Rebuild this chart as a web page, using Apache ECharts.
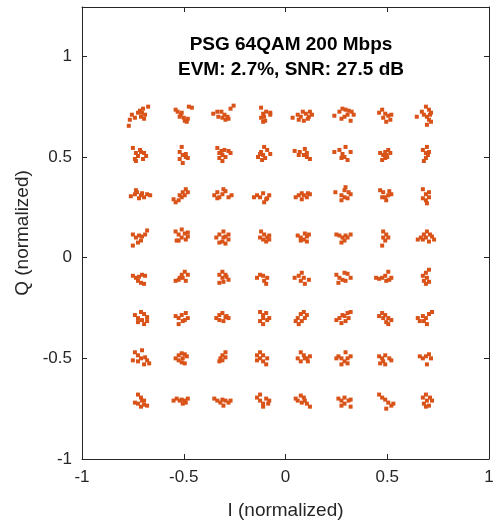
<!DOCTYPE html>
<html><head><meta charset="utf-8">
<script src="https://cdn.jsdelivr.net/npm/echarts@6/dist/echarts.min.js"></script>
<style>html,body{margin:0;padding:0;background:#fff}#c{width:497px;height:525px}</style>
</head><body><div id="c"></div>
<script>
// Cluster centres
const I_CENTERS = [-0.71, -0.51, -0.31, -0.11, 0.09, 0.29, 0.49, 0.69];
const Q_CENTERS = [0.70, 0.51, 0.31, 0.10, -0.10, -0.30, -0.50, -0.71];
const OFFSET_UNIT = 0.005;
// Per-cluster point offsets (in OFFSET_UNIT), rows top->bottom, columns left->right
const ROW0 = ["-9,2 -6,-1 -3,4 -1,6 2,8 0,0 4,2 -11,-3 7,10 -12,-9 3,-2 1,4","-6,7 -4,5 -1,2 2,-1 5,-5 7,10 10,9 -2,0 3,-4 6,-2 0,4","-9,3 -4,0 -1,5 2,2 5,0 8,8 -5,5 3,-3 6,-2 0,-1 11,11","-2,9 0,3 3,5 7,4 1,0 -2,-1 2,-4 0,-5 7,2","-11,-1 -6,2 -1,5 2,3 5,0 8,2 0,-4 -3,0 4,-2 6,5 -5,-3","-10,1 -5,5 -2,8 1,7 4,6 7,5 9,2 0,0 3,2 -3,-2 6,-4","-6,4 -3,7 0,3 3,1 5,-3 -2,-1 1,-5 6,2","-9,0 -4,5 0,10 3,7 5,4 1,0 3,-3 -2,2 5,-5 1,-8 4,2"];
const ROW1 = ["-8,7 -5,2 -3,-1 0,3 3,2 5,-1 -6,-4 2,-4 -1,5 -5,-6","0,8 -2,3 1,0 4,-2 6,-3 -2,-4 1,-8 4,1","-5,7 -3,2 0,0 2,5 6,4 -3,-3 0,-6 3,-2 8,2 -1,4","1,8 4,5 -2,3 0,0 -5,-2 2,-3 7,1 -1,-5 -3,1","-9,4 -4,3 0,0 3,-2 6,-4 1,6 -5,0 3,2","-10,3 -5,5 -2,1 0,-2 3,-5 1,8 6,3 -3,-3","-5,2 -2,0 0,-3 3,5 5,2 1,0 -3,-5 2,-2 0,3","-3,5 0,2 2,0 0,-3 -2,-6 3,3 1,8"];
const ROW2 = ["-10,-1 -6,1 -4,3 0,0 3,-2 6,1 -5,5 -2,-3 1,2 9,0","-8,-4 -6,-7 -2,0 1,3 4,6 6,3 0,-2 3,0 -3,-5","-8,0 -5,3 -3,-2 0,1 3,4 6,-2 1,6 -5,-3 9,0","-9,-2 -6,0 -3,-2 0,2 4,-3 6,0 1,-7 3,-4","-8,-2 -5,0 -2,2 0,0 3,-2 6,1 -2,-4 4,2","-9,3 -3,0 0,5 4,3 6,1 0,-2 -3,-5 3,-3 1,8","-5,5 -2,3 0,-2 3,0 6,1 -3,-2 1,-5 4,4","-3,6 0,1 3,-2 0,-5 -3,-3 3,3 1,-8"];
const ROW3 = ["-8,3 -5,0 -2,2 1,1 4,3 6,7 -3,-5 0,-3 -8,-8","-6,6 -3,3 0,0 3,4 6,1 -3,-3 0,8 4,-2 -5,-3 6,5","-6,0 -3,3 1,6 3,1 6,-2 0,-4 -3,-5 3,-6 1,0 6,3","-2,6 1,3 4,0 6,2 0,-2 -3,0 3,-4 6,-2","-6,2 -3,0 0,-2 3,1 5,3 1,4 -3,-3 3,-4","-8,3 -5,2 -2,0 0,-3 3,0 6,3 -3,-5 1,2","-2,6 1,3 3,0 -2,0 0,-3 -3,-8","-8,-2 -5,0 -2,3 1,6 4,3 6,1 8,-2 -3,-2 3,-4 0,0"];
const ROW4 = ["-8,2 -5,0 -2,1 1,3 4,2 -3,-3 0,-5 3,-6","-6,-3 -2,0 0,3 3,6 6,3 1,0 4,-3 -3,-2","-3,3 0,0 4,1 6,-2 1,-4 -3,-5 3,3 0,6","-6,0 -3,3 0,2 4,0 1,-3 3,-6","-9,0 -5,2 -2,5 0,0 -3,-3 1,-6 5,-2","-8,3 -5,0 -2,-2 0,5 3,4 6,0 1,-3 -6,-5","-9,0 -6,-1 -3,0 0,2 3,6 1,-3 4,-2 6,0","-3,2 0,5 3,8 1,0 -2,-3 3,-4 0,-6"];
const ROW5 = ["-6,3 -3,0 0,6 3,4 6,1 1,-2 -3,-4 3,-6 6,-3","-6,2 -3,0 0,3 4,5 6,0 1,-3 -3,-6 3,-2","-6,0 -3,3 0,5 4,2 6,0 1,-3 -3,-2 3,1","-3,6 0,3 3,5 0,0 -3,-3 0,-6 4,-2 6,0","-8,-3 -6,0 -3,4 0,6 3,3 -5,-6 -2,-3 1,0","-8,-2 -5,0 -2,3 0,2 3,5 6,6 4,0 1,-3 -3,-5","-6,2 -3,5 0,3 3,0 6,-2 -2,0 1,-4 3,-6","-8,0 -6,-3 -3,2 0,0 3,4 6,6 -2,-3 1,-6"];
const ROW6 = ["-6,6 -3,3 0,0 4,1 6,-2 1,8 -3,-3 3,-6 8,-5 -8,-2","-6,0 -3,3 0,5 3,4 1,0 -3,-2 0,-4 3,-5 5,2","-2,0 0,3 3,6 0,-2 -3,-3 3,1","-6,3 -3,6 0,3 4,0 -3,0 0,-3 3,-6 -6,-2","-6,0 -3,-3 0,3 3,0 6,2 -3,6 1,0 4,-3","-6,2 -3,0 0,-3 3,0 6,2 1,6 -3,-6 3,-5 -8,0","-6,2 -3,0 0,3 4,0 6,-2 -5,-5 -2,-3 0,-6","-6,2 -3,0 0,2 3,4 5,0 1,-6"];
const ROW7 = ["-3,6 0,3 3,0 1,0 -3,-3 3,-4 0,-6 -6,-2 6,-5","-8,0 -5,2 -2,0 0,1 3,0 6,2 1,-3 4,-2","-8,2 -5,0 -2,-2 0,1 3,0 6,-2 8,0 1,-5","-6,3 -3,0 0,-3 3,2 6,0 -3,6 0,-6 5,-3","-8,2 -6,0 -3,5 0,3 3,-3 6,-6 1,0 -2,-2","-6,2 -3,0 0,3 4,0 6,1 -3,-5 0,-3 6,-6","-6,6 -3,3 0,1 3,-2 6,-5 1,-8 8,-3","-3,3 0,6 4,3 1,0 -2,-3 0,-6 3,-5 6,0"];
const ROWS = [ROW0, ROW1, ROW2, ROW3, ROW4, ROW5, ROW6, ROW7];
const X_TICKS = [-1, -0.5, 0, 0.5, 1];
const Y_TICKS = [-1, -0.5, 0, 0.5, 1];

const points = [];
ROWS.forEach((row, r) => row.forEach((s, c) => {
  s.trim().split(/\s+/).forEach(p => {
    const [dx, dy] = p.split(',').map(Number);
    points.push([I_CENTERS[c] + dx * OFFSET_UNIT, Q_CENTERS[r] + dy * OFFSET_UNIT]);
  });
}));

const AX = '#262626';
const FONT = 'Liberation Sans, Arial, sans-serif';
const tickFmt = (ticks) => v => ticks.some(t => Math.abs(t - v) < 1e-9) ? String(v) : '';
const line = { show: true, onZero: false, lineStyle: { color: AX, width: 1 } };
const tick = { show: true, inside: true, length: 5, lineStyle: { color: AX } };
const chart = echarts.init(document.getElementById('c'));
chart.setOption({
  animation: false,
  backgroundColor: '#fff',
  title: {
    text: 'PSG 64QAM 200 Mbps\nEVM: 2.7%, SNR: 27.5 dB',
    left: 286, top: 27, textAlign: 'center',
    textStyle: { fontFamily: FONT, fontSize: 19, fontWeight: 'bold', color: '#000', lineHeight: 25 }
  },
  grid: { left: 82, right: 8, top: 7, bottom: 62, containLabel: false },
  xAxis: [{
    type: 'value', min: -1, max: 1, interval: 0.5, position: 'bottom',
    name: 'I (normalized)', nameLocation: 'middle', nameGap: 42,
    nameTextStyle: { fontFamily: FONT, fontSize: 19, color: AX },
    axisLine: line, axisTick: tick,
    axisLabel: { fontFamily: FONT, fontSize: 17, color: AX, margin: 10, formatter: tickFmt(X_TICKS) },
    splitLine: { show: false }
  }, {
    type: 'value', min: -1, max: 1, interval: 0.5, position: 'top',
    axisLine: line, axisTick: tick,
    axisLabel: { show: false }, splitLine: { show: false }
  }],
  yAxis: [{
    type: 'value', min: -1, max: 1.245, interval: 0.5, position: 'left',
    name: 'Q (normalized)', nameLocation: 'middle', nameGap: 48, nameRotate: 90,
    nameTextStyle: { fontFamily: FONT, fontSize: 19, color: AX },
    axisLine: line, axisTick: tick,
    axisLabel: { fontFamily: FONT, fontSize: 17, color: AX, margin: 10, formatter: tickFmt(Y_TICKS) },
    splitLine: { show: false }
  }, {
    type: 'value', min: -1, max: 1.245, interval: 0.5, position: 'right',
    axisLine: line, axisTick: tick,
    axisLabel: { show: false }, splitLine: { show: false }
  }],
  series: [{
    type: 'scatter', xAxisIndex: 0, yAxisIndex: 0,
    symbol: 'rect', symbolSize: 4,
    itemStyle: { color: '#D95319', opacity: 1 },
    data: points
  }]
});
</script></body></html>
